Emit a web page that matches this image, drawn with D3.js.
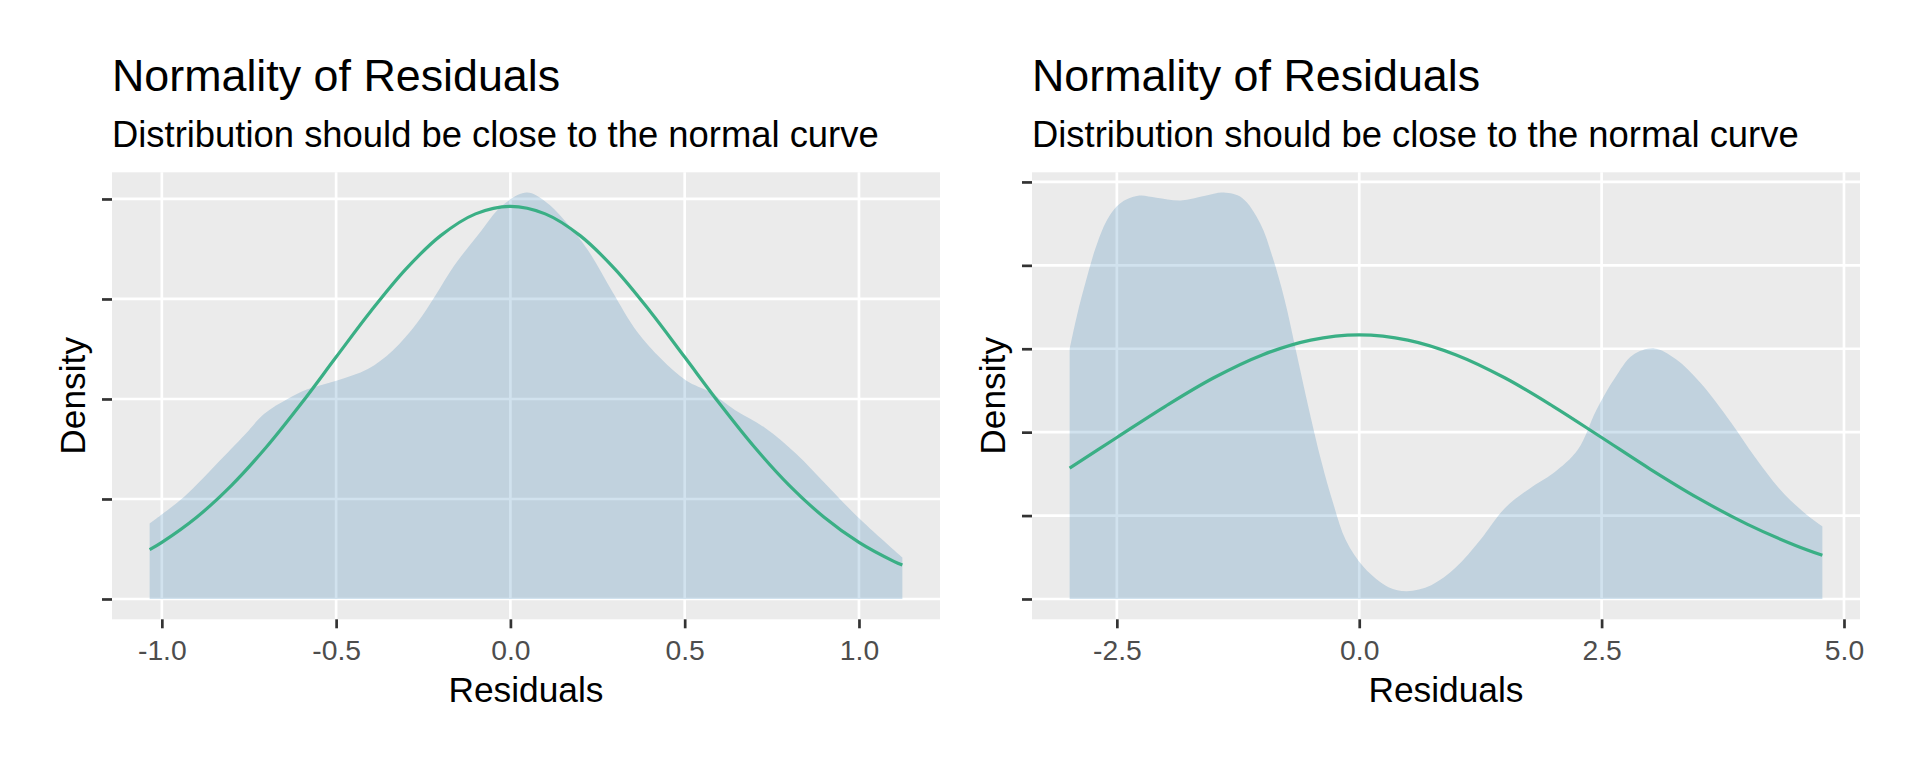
<!DOCTYPE html>
<html>
<head>
<meta charset="utf-8">
<script src="https://cdn.jsdelivr.net/npm/d3@7"></script>
<style>
html,body{margin:0;padding:0;background:#fff;}
svg{display:block;}
text{font-family:"Liberation Sans",Arial,Helvetica,sans-serif;}
</style>
</head>
<body>
<svg id="chart" width="1920" height="768"></svg>
<script>
// ---------- data ----------
const titleText = "Normality of Residuals";
const subtitleText = "Distribution should be close to the normal curve";
const xAxisTitle = "Residuals";
const yAxisTitle = "Density";

// Left panel
const leftXTicks = [-1.0, -0.5, 0.0, 0.5, 1.0];
const leftXTickLabels = ["-1.0", "-0.5", "0.0", "0.5", "1.0"];
const leftYTicks = [0, 0.2, 0.4, 0.6, 0.8];
const leftDensityX = [-1.035, -0.935, -0.847, -0.760, -0.707, -0.637, -0.584, -0.497, -0.409, -0.339, -0.269, -0.216, -0.163, -0.093, -0.023, 0.047, 0.100, 0.153, 0.223, 0.293, 0.363, 0.433, 0.504, 0.574, 0.644, 0.731, 0.819, 0.907, 0.995, 1.1245];
const leftDensityY = [0.151, 0.205, 0.267, 0.330, 0.370, 0.401, 0.419, 0.437, 0.460, 0.496, 0.551, 0.606, 0.665, 0.728, 0.787, 0.8127, 0.795, 0.759, 0.697, 0.614, 0.535, 0.480, 0.437, 0.413, 0.378, 0.342, 0.291, 0.228, 0.165, 0.083];
const leftNormalX = [-1.035, -1.0, -0.9, -0.8, -0.7, -0.6, -0.5, -0.4, -0.3, -0.2, -0.1, 0.0, 0.1, 0.2, 0.3, 0.4, 0.5, 0.6, 0.7, 0.8, 0.9, 1.0, 1.1, 1.1245];
const leftNormalY = [0.0986, 0.1132, 0.1635, 0.2273, 0.3039, 0.3909, 0.4838, 0.5759, 0.6597, 0.7267, 0.7702, 0.7853, 0.7702, 0.7267, 0.6597, 0.5759, 0.4838, 0.3909, 0.3039, 0.2273, 0.1635, 0.1132, 0.0753, 0.0678];

// Right panel
const rightXTicks = [-2.5, 0.0, 2.5, 5.0];
const rightXTickLabels = ["-2.5", "0.0", "2.5", "5.0"];
const rightYTicks = [0, 0.05, 0.10, 0.15, 0.20, 0.25];
const rightDensityX = [-2.987, -2.912, -2.817, -2.722, -2.597, -2.471, -2.281, -2.093, -1.840, -1.589, -1.399, -1.211, -1.021, -0.895, -0.769, -0.643, -0.517, -0.391, -0.265, -0.139, 0.050, 0.302, 0.491, 0.743, 0.995, 1.248, 1.499, 1.752, 2.004, 2.256, 2.445, 2.634, 2.823, 3.044, 3.264, 3.516, 3.831, 4.083, 4.336, 4.587, 4.777];
const rightDensityY = [0.1498, 0.1698, 0.1910, 0.2099, 0.2276, 0.2370, 0.2417, 0.2405, 0.2389, 0.2417, 0.2436, 0.2405, 0.2251, 0.2051, 0.1792, 0.1462, 0.1132, 0.0825, 0.0566, 0.0353, 0.0188, 0.0071, 0.0047, 0.0083, 0.0188, 0.0353, 0.0542, 0.0660, 0.0755, 0.0896, 0.1132, 0.1321, 0.1462, 0.1502, 0.1438, 0.1297, 0.1061, 0.0849, 0.0660, 0.0519, 0.0436];
const rightNormalX = [-2.987, -2.5, -2.0, -1.5, -1.0, -0.5, 0.0, 0.5, 1.0, 1.5, 2.0, 2.5, 3.0, 3.5, 4.0, 4.5, 4.777];
const rightNormalY = [0.0784, 0.0968, 0.1155, 0.1326, 0.1463, 0.1552, 0.1583, 0.1552, 0.1463, 0.1326, 0.1155, 0.0968, 0.0779, 0.0603, 0.0449, 0.0321, 0.0262];

// ---------- drawing ----------
const svg = d3.select("#chart");
const panelW = 828, panelH = 447, panelTop = 172.3;
const fillColor = "#1b6ca8", lineColor = "#3aaf85";

function drawPanel(opts) {
  const left = opts.left;
  const g = svg.append("g");
  const xMin = d3.min(opts.dx), xMax = d3.max(opts.dx);
  const xPad = (xMax - xMin) * 0.05;
  const yMax = d3.max(opts.dy);
  const yPad = yMax * 0.05;
  const x = d3.scaleLinear().domain([xMin - xPad, xMax + xPad]).range([left, left + panelW]);
  const y = d3.scaleLinear().domain([-yPad, yMax + yPad]).range([panelTop + panelH, panelTop]);

  // titles
  g.append("text").attr("x", left).attr("y", 90.8).attr("font-size", 44.8).attr("fill", "#000").text(titleText);
  g.append("text").attr("x", left).attr("y", 147.3).attr("font-size", 36.4).attr("fill", "#000").text(subtitleText);

  // panel background
  g.append("rect").attr("x", left).attr("y", panelTop).attr("width", panelW).attr("height", panelH).attr("fill", "#EBEBEB");

  // grid
  g.selectAll(".hg").data(opts.yTicks).enter().append("line")
    .attr("x1", left).attr("x2", left + panelW)
    .attr("y1", d => y(d)).attr("y2", d => y(d))
    .attr("stroke", "#fff").attr("stroke-width", 2.7);
  g.selectAll(".vg").data(opts.xTicks).enter().append("line")
    .attr("y1", panelTop).attr("y2", panelTop + panelH)
    .attr("x1", d => x(d)).attr("x2", d => x(d))
    .attr("stroke", "#fff").attr("stroke-width", 2.7);

  // density area
  const dens = opts.dx.map((v, i) => [v, opts.dy[i]]);
  const area = d3.area().x(d => x(d[0])).y0(y(0)).y1(d => y(d[1])).curve(d3.curveCatmullRom.alpha(0.5));
  g.append("path").datum(dens).attr("d", area).attr("fill", fillColor).attr("fill-opacity", 0.2);

  // normal curve
  const norm = opts.nx.map((v, i) => [v, opts.ny[i]]);
  const line = d3.line().x(d => x(d[0])).y(d => y(d[1])).curve(d3.curveCatmullRom.alpha(0.5));
  g.append("path").datum(norm).attr("d", line).attr("fill", "none").attr("stroke", lineColor).attr("stroke-width", 3.2);

  // axes
  const xAxis = d3.axisBottom(x).tickValues(opts.xTicks).tickFormat((d, i) => opts.xLabels[i]).tickSize(9).tickPadding(11.6);
  const xa = g.append("g").attr("transform", `translate(0,${panelTop + panelH})`).call(xAxis);
  xa.select(".domain").remove();
  xa.selectAll(".tick line").attr("stroke", "#333333").attr("stroke-width", 2.7);
  xa.selectAll(".tick text").attr("fill", "#4D4D4D").attr("font-size", 28.3).attr("font-family", "Liberation Sans, Arial, sans-serif");

  const yAxis = d3.axisLeft(y).tickValues(opts.yTicks).tickFormat("").tickSize(10);
  const ya = g.append("g").attr("transform", `translate(${left},0)`).call(yAxis);
  ya.select(".domain").remove();
  ya.selectAll(".tick line").attr("stroke", "#333333").attr("stroke-width", 2.7);

  // axis titles
  g.append("text").attr("x", left + panelW / 2).attr("y", 701.7).attr("text-anchor", "middle")
    .attr("font-size", 35.3).attr("fill", "#000").text(xAxisTitle);
  g.append("text").attr("transform", `translate(${left - 27.5},${panelTop + panelH / 2}) rotate(-90)`)
    .attr("text-anchor", "middle").attr("font-size", 35.3).attr("fill", "#000").text(yAxisTitle);
}

drawPanel({left: 112, dx: leftDensityX, dy: leftDensityY, nx: leftNormalX, ny: leftNormalY,
  xTicks: leftXTicks, xLabels: leftXTickLabels, yTicks: leftYTicks});
drawPanel({left: 1032, dx: rightDensityX, dy: rightDensityY, nx: rightNormalX, ny: rightNormalY,
  xTicks: rightXTicks, xLabels: rightXTickLabels, yTicks: rightYTicks});
</script>
</body>
</html>
